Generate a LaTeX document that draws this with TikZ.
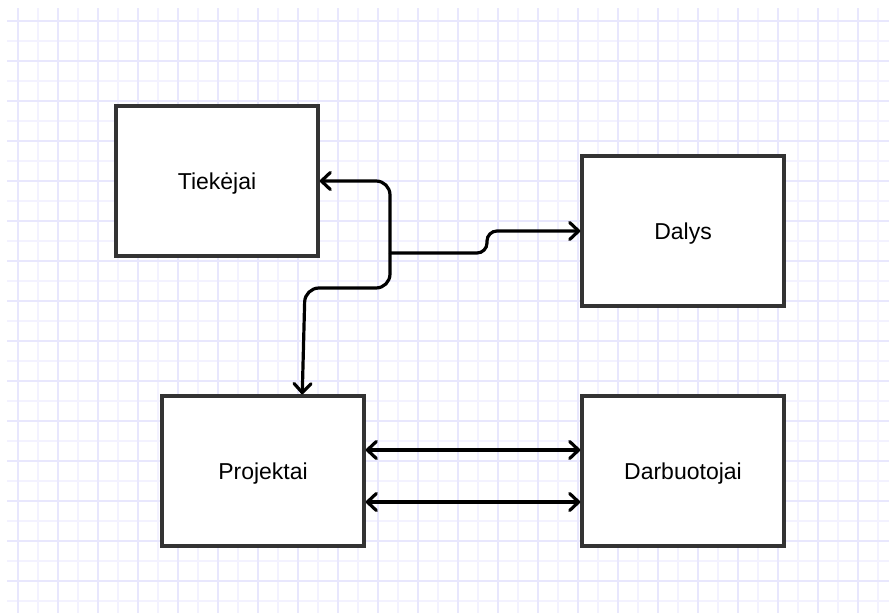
\documentclass[tikz,border=0pt]{standalone}
\usepackage{fontspec}
\setmainfont{Liberation Sans}
\usetikzlibrary{arrows.meta}
\definecolor{gridminor}{RGB}{243,242,255}
\definecolor{gridmajor}{RGB}{232,231,253}
\definecolor{boxline}{RGB}{51,51,51}

\begin{document}
\begin{tikzpicture}[x=1pt,y=-1pt,
  entity/.style={draw=boxline, line width=3.5pt, fill=white,
    minimum width=202pt, minimum height=150pt, inner sep=0pt,
    text height=16.5pt, text depth=0pt,
    font=\fontsize{23}{27}\selectfont},
  tipbarb/.style={-{Straight Barb[length=9pt,width=17pt,round]}},
  conn/.style={line width=3.2pt, draw=black, tipbarb},
  both/.style={line width=3.2pt, draw=black,
    {Straight Barb[length=9pt,width=17pt,round]}-{Straight Barb[length=9pt,width=17pt,round]}},
  gridline/.style={line width=1.5pt},
]
\useasboundingbox (0,0) rectangle (889,613);
\fill[white] (0,0) rectangle (889,613);

% background grid: minor lines every 20, major lines every 40
\foreach \k in {0,...,43}
  \draw[gridline, gridminor] ({18+20*\k},8) -- ({18+20*\k},613);
\foreach \k in {0,...,29}
  \draw[gridline, gridminor] (7,{21+20*\k}) -- (889,{21+20*\k});
\foreach \k in {0,...,21}
  \draw[gridline, gridmajor] ({18+40*\k},8) -- ({18+40*\k},613);
\foreach \k in {0,...,14}
  \draw[gridline, gridmajor] (7,{21+40*\k}) -- (889,{21+40*\k});

% entities
\node[entity] (tie) at (217,181) {Tiekėjai};
\node[entity] (dal) at (683,231) {Dalys};
\node[entity] (prj) at (263,471) {Projektai};
\node[entity] (dar) at (683,471) {Darbuotojai};

% branching connector
\coordinate (hub) at (390,253);
\draw[conn, rounded corners=14pt] (hub) |- (tie.east);
\draw[conn, rounded corners=14pt] (hub) -- (390,288) -- (305,288)
  -- ([xshift=142pt]prj.north west);
\draw[conn, rounded corners=10pt] (hub) -- (487,253) |- (dal.west);

% two-way links between Projektai and Darbuotojai
\draw[both] ([yshift=21pt]prj.east) -- ([yshift=21pt]dar.west);
\draw[both] ([yshift=-31pt]prj.east) -- ([yshift=-31pt]dar.west);
\end{tikzpicture}
\end{document}
